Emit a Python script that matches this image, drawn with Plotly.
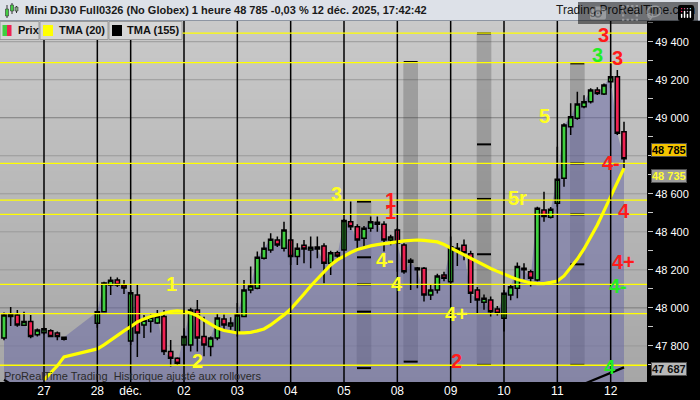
import plotly.graph_objects as go

# ---------------- data ----------------
bar_slot = [0, 1, 2, 3, 4, 5, 6, 7, 8, 9,
            14, 15, 16, 17, 18,
            19, 20, 21, 22, 23, 24, 25, 26,
            27, 28, 29, 30, 31, 32, 33, 34,
            35, 36, 37, 38, 39, 40, 41, 42,
            43, 44, 45, 46, 47, 48, 49, 50,
            51, 52, 53, 54, 55, 56, 57, 58,
            59, 60, 61, 62, 63, 64, 65, 66,
            67, 68, 69, 70, 71, 72, 73, 74,
            75, 76, 77, 78, 79, 80, 81, 82,
            83, 84, 85, 86, 87, 88, 89, 90,
            91, 92, 93]
bar_open = [47842, 47955, 47963, 47909, 47928, 47858, 47869, 47880, 47868, 47835,
            47919, 47980, 48120, 48147, 48120,
            47826, 48068, 47910, 47930, 47920, 47955, 47770, 47735,
            47805, 47805, 47989, 47850, 47797, 47842, 47942, 47905,
            47866, 47955, 48094, 48103, 48261, 48305, 48357, 48313,
            48357, 48270, 48330, 48305, 48320, 48325, 48235, 48290,
            48305, 48453, 48427, 48366, 48419, 48440, 48440, 48357,
            48410, 48331, 48250, 48210, 48208, 48068, 48094, 48173,
            48138, 48300, 48330, 48285, 48094, 48030, 48042, 47994,
            47945, 48068, 48103, 48208, 48190, 48147, 48515, 48477,
            48550, 48682, 48953, 48997, 49058, 49084, 49146, 49125,
            49190, 49216, 48927]
bar_high = [47975, 48005, 47989, 47980, 47963, 47892, 47895, 47888, 47875, 47850,
            47985, 48138, 48164, 48160, 48147,
            48094, 48120, 47963, 47965, 47989, 47989, 47831, 47740,
            47893, 48000, 48042, 47953, 47850, 47972, 47965, 47950,
            48026, 48147, 48217, 48296, 48348, 48392, 48375, 48453,
            48506, 48340, 48357, 48375, 48375, 48340, 48300, 48300,
            48467, 48559, 48440, 48430, 48480, 48480, 48455, 48385,
            48420, 48340, 48261, 48215, 48215, 48120, 48180, 48190,
            48375, 48341, 48360, 48300, 48110, 48070, 48060, 48010,
            48094, 48125, 48238, 48235, 48200, 48532, 48611, 48530,
            48848, 48971, 49076, 49137, 49119, 49155, 49160, 49180,
            49286, 49251, 48979]
bar_low = [47830, 47905, 47900, 47905, 47840, 47850, 47860, 47845, 47830, 47828,
           47895, 47975, 48068, 48110, 48073,
           47805, 47742, 47842, 47870, 47915, 47752, 47691, 47700,
           47700, 47770, 47770, 47745, 47745, 47830, 47890, 47885,
           47849, 47950, 48077, 48098, 48255, 48290, 48320, 48296,
           48226, 48226, 48235, 48209, 48261, 48130, 48173, 48265,
           48300, 48410, 48308, 48313, 48400, 48400, 48296, 48330,
           48190, 48180, 48094, 48103, 48033, 48042, 48075, 48140,
           48130, 48220, 48250, 48025, 47972, 47990, 47954, 47960,
           47875, 48040, 48051, 48150, 48112, 48140, 48453, 48470,
           48532, 48637, 48909, 48990, 49050, 49075, 49120, 49120,
           49155, 48909, 48734]
bar_close = [47963, 47965, 47910, 47928, 47849, 47884, 47890, 47849, 47850, 47845,
             47980, 48131, 48145, 48120, 48105,
             48079, 47868, 47935, 47950, 47955, 47770, 47735, 47709,
             47849, 47989, 47842, 47805, 47842, 47947, 47910, 47921,
             47963, 48094, 48115, 48266, 48314, 48361, 48331, 48410,
             48270, 48314, 48310, 48319, 48310, 48235, 48290, 48273,
             48459, 48427, 48357, 48419, 48453, 48450, 48357, 48373,
             48340, 48190, 48240, 48200, 48068, 48094, 48168, 48156,
             48322, 48313, 48290, 48077, 48042, 48050, 47980, 47972,
             48077, 48111, 48217, 48200, 48156, 48524, 48480, 48519,
             48676, 48962, 49005, 49072, 49084, 49146, 49128, 49172,
             49216, 48918, 48785]
tma20 = [None, None, None, None, None, None, 47621, 47658, 47695, 47742,
         47784, 47805, 47831, 47858, 47879,
         47901, 47926, 47942, 47955, 47963, 47973, 47981, 47984,
         47981, 47973, 47958, 47936, 47915, 47894, 47881, 47873,
         47868, 47868, 47871, 47879, 47889, 47910, 47936, 47963,
         47994, 48031, 48073, 48115, 48152, 48189, 48226, 48252,
         48273, 48291, 48307, 48318, 48326, 48333, 48339, 48341,
         48347, 48352, 48355, 48357, 48355, 48352, 48347, 48333,
         48315, 48297, 48276, 48257, 48239, 48223, 48207, 48192,
         48176, 48163, 48149, 48139, 48131, 48128, 48128, 48134,
         48141, 48168, 48210, 48257, 48310, 48373, 48436, 48510,
         48588, 48657, 48735]
tma155 = [47622, 47600, None, None, None, None, None, None, None, None,
          None, None, None, None, None,
          None, None, None, None, None, None, None, None,
          None, None, None, None, None, None, None, None,
          None, None, None, None, None, None, None, None,
          None, None, None, None, None, None, None, None,
          None, None, None, None, None, None, None, None,
          None, None, None, None, None, None, None, None,
          None, None, None, None, None, None, None, None,
          None, None, None, None, None, None, None, None,
          None, None, None, None, 47600, 47614, 47628, 47642,
          47657, 47672, 47687]

day_start_slot = [6, 14, 19, 27, 35, 43, 51, 59, 67, 75, 83, 91]
day_label = ["27", "28", "déc.", "02", "03", "04", "05", "08", "09", "10", "11", "12"]

price_ticks = [47800, 48000, 48200, 48400, 48600, 48800, 49000, 49200, 49400]
price_tick_text = ["47 800", "48 000", "48 200", "48 400", "48 600", "",
                   "49 000", "49 200", "49 400"]

level_price = [49445, 49290, 48760, 48567, 48492, 48124, 47970, 47698]

band_slot = [54, 61, 72, 86]
band_low = [47683, 47717, 47700, 47700]
band_high = [48559, 49293, 49444, 49286]
band_marks = [[48559, 48266, 48124, 47980, 47683],
              [49293, 47717],
              [49444, 48860, 48573, 48282, 47700],
              [49286, 48760, 48492, 48229, 47700]]

sig_text = ["1", "2", "3", "1", "1", "4-", "4", "4+", "2", "5r", "5",
            "3", "3", "3", "4-", "4", "4+", "4-", "4"]
sig_color = ["yellow", "yellow", "yellow", "red", "red", "yellow", "yellow", "yellow", "red",
             "yellow", "yellow", "red", "green", "red", "red", "red", "red", "green", "green"]
sig_slot = [25.05, 28.95, 49.9, 57.9, 57.9, 57.2, 58.95, 67.9, 67.9, 77.07, 81.0,
            89.97, 88.95, 91.98, 91.02, 92.97, 92.9, 92.07, 90.9]
sig_price = [48126, 47721, 48601, 48567, 48504, 48252, 48126, 47969, 47721, 48578, 49009,
             49437, 49332, 49315, 48760, 48508, 48241, 48116, 47691]

header_text = "Mini DJ30 Full0326 (No Globex) 1 heure 48 785 -0,03 % 12 déc. 2025, 17:42:42"
site_text = "Trading.ProRealTime.com"
footer_text = "ProRealTime Trading  Historique ajusté aux rollovers"
legend_items = ["Prix", "TMA (20)", "TMA (155)"]

# ---------------- layout constants ----------------
W, H = 700, 400
ML, MR, MT, MB = 0, 53, 21, 18
PW, PH = W - ML - MR, H - MT - MB
X_LEFT, X_RIGHT = -0.6, 96.45
Y_MIN, Y_MAX = 47610, 49509
FONT = "Arial, Liberation Sans, sans-serif"
GREEN = "#3fd03f"
RED = "#ee2152"
SIG_COLORS = {"yellow": "#ffff22", "red": "#ff1a1a", "green": "#22ee22"}


def PX(x):
    return (x - ML) / PW


def PY(y):
    return (MT + PH - y) / PH


def fmt(v):
    s = f"{int(round(v)):,}"
    return s.replace(",", " ")


fig = go.Figure()

# ---- base subplot (x, y): background, grid, bands, price area ----
fig.add_trace(go.Heatmap(
    x=[X_LEFT, X_RIGHT], y=[Y_MIN, Y_MAX], z=[[0, 0], [1, 1]],
    colorscale=[[0, "#a6a6a6"], [1, "#c9c9c9"]], showscale=False,
    zsmooth="best", hoverinfo="skip"))

gx, gy, gx2, gy2 = [], [], [], []
for v in price_ticks:
    if v % 1000 == 0:
        gx2 += [X_LEFT, X_RIGHT, None]
        gy2 += [v, v, None]
    else:
        gx += [X_LEFT, X_RIGHT, None]
        gy += [v, v, None]
fig.add_trace(go.Scatter(x=gx, y=gy, mode="lines", line=dict(color="#999999", width=1), hoverinfo="skip"))
fig.add_trace(go.Scatter(x=gx2, y=gy2, mode="lines", line=dict(color="#7c7c7c", width=1), hoverinfo="skip"))

for s, lo, hi in zip(band_slot, band_low, band_high):
    fig.add_trace(go.Scatter(
        x=[s - 1.1, s + 1.1, s + 1.1, s - 1.1, s - 1.1],
        y=[lo, lo, hi, hi, lo], fill="toself", mode="lines",
        line=dict(width=0), fillcolor="rgba(40,40,40,0.24)", hoverinfo="skip"))

fig.add_trace(go.Scatter(x=bar_slot, y=bar_close, mode="lines", line=dict(width=0),
                         fill="tozeroy", fillcolor="rgba(104,104,164,0.52)", hoverinfo="skip"))

bx, by = [], []
for s, marks in zip(band_slot, band_marks):
    for m in marks:
        bx += [s - 1.05, s + 1.05, None]
        by += [m, m, None]
fig.add_trace(go.Scatter(x=bx, y=by, mode="lines", line=dict(color="black", width=2), hoverinfo="skip"))

# ---- overlay subplot (x2, y2): candles and averages on top ----
fig.add_trace(go.Candlestick(
    x=bar_slot, open=bar_open, high=bar_high, low=bar_low, close=bar_close,
    increasing=dict(fillcolor=GREEN, line=dict(color="black", width=1.5)),
    decreasing=dict(fillcolor=RED, line=dict(color="black", width=1.5)),
    whiskerwidth=0, hoverinfo="skip", xaxis="x2", yaxis="y2"))

fig.add_trace(go.Scatter(x=bar_slot, y=tma155, mode="lines", line=dict(color="black", width=2.2),
                         hoverinfo="skip", xaxis="x2", yaxis="y2"))
fig.add_trace(go.Scatter(x=bar_slot, y=tma20, mode="lines", line=dict(color="#ffff00", width=3.2),
                         hoverinfo="skip", xaxis="x2", yaxis="y2"))

shapes = []
# day separators and price levels (above the candles, clipped to the plot)
for d in day_start_slot:
    shapes.append(dict(type="line", xref="x", yref="y", x0=d, x1=d, y0=Y_MIN, y1=Y_MAX,
                       line=dict(color="black", width=1.5), layer="above"))
for p in level_price:
    shapes.append(dict(type="line", xref="x", yref="y", x0=X_LEFT, x1=X_RIGHT, y0=p, y1=p,
                       line=dict(color="#ffff00", width=1.3), layer="above"))

annotations = []
for t, c, s, p in zip(sig_text, sig_color, sig_slot, sig_price):
    annotations.append(dict(x=s, y=p, xref="x", yref="y", text="<b>" + t + "</b>", showarrow=False,
                            font=dict(family=FONT, size=20, color=SIG_COLORS[c]),
                            xanchor="center", yanchor="middle"))

last_close = bar_close[-1]
last_tma20 = tma20[-1]
last_tma155 = tma155[-1]
for val, bg, fc, shift in [(last_close, "#f5c400", "#000000", 8.5),
                           (last_tma20, "#9c9c9c", "#ffff30", -8),
                           (last_tma155, "#b8b8b8", "#101010", -1.5)]:
    annotations.append(dict(x=1, y=val, xref="paper", yref="y", text="<b>" + fmt(val) + "</b>",
                            showarrow=False, xanchor="left", yanchor="middle", xshift=4, yshift=shift,
                            bgcolor=bg, bordercolor="#505050", borderwidth=1, borderpad=0,
                            font=dict(family=FONT, size=11, color=fc)))

annotations.append(dict(x=PX(23), y=PY(10.5), xref="paper", yref="paper", text="<b>" + header_text + "</b>",
                        showarrow=False, xanchor="left", yanchor="middle",
                        font=dict(family=FONT, size=11, color="#1a1a1a")))
annotations.append(dict(x=PX(697), y=PY(10.5), xref="paper", yref="paper", text=site_text,
                        showarrow=False, xanchor="right", yanchor="middle",
                        font=dict(family=FONT, size=12, color="#1a1a1a")))
annotations.append(dict(x=PX(2), y=PY(376), xref="paper", yref="paper", text=footer_text,
                        showarrow=False, xanchor="left", yanchor="middle",
                        font=dict(family=FONT, size=11, color="#2a2a2a")))

# header bar and legend row
shapes.append(dict(type="rect", xref="paper", yref="paper", x0=PX(0), x1=PX(W), y0=PY(MT), y1=PY(0),
                   fillcolor="#dde1e8", line=dict(width=0), layer="above"))
shapes.append(dict(type="line", xref="paper", yref="paper", x0=PX(0), x1=PX(W), y0=PY(MT - 0.5), y1=PY(MT - 0.5),
                   line=dict(color="#8e96a3", width=1), layer="above"))
legend_box = [(0, 39), (40, 108), (109, 182)]
legend_text_x = [16, 57, 125]
for (x0, x1), tx, name in zip(legend_box, legend_text_x, legend_items):
    shapes.append(dict(type="rect", xref="paper", yref="paper", x0=PX(x0), x1=PX(x1), y0=PY(39.5), y1=PY(21.5),
                       fillcolor="#d6d6d6", line=dict(color="#9a9a9a", width=1), layer="above"))
    annotations.append(dict(x=PX(tx), y=PY(30.5), xref="paper", yref="paper", text="<b>" + name + "</b>",
                            showarrow=False, xanchor="left", yanchor="middle",
                            font=dict(family=FONT, size=11, color="#111111")))
shapes.append(dict(type="rect", xref="paper", yref="paper", x0=PX(2.5), x1=PX(7), y0=PY(36), y1=PY(25),
                   fillcolor=GREEN, line=dict(width=0), layer="above"))
shapes.append(dict(type="rect", xref="paper", yref="paper", x0=PX(7), x1=PX(11.5), y0=PY(36), y1=PY(25),
                   fillcolor=RED, line=dict(width=0), layer="above"))
shapes.append(dict(type="rect", xref="paper", yref="paper", x0=PX(43), x1=PX(53), y0=PY(36), y1=PY(25),
                   fillcolor="#ffff00", line=dict(width=0), layer="above"))
shapes.append(dict(type="rect", xref="paper", yref="paper", x0=PX(112), x1=PX(122), y0=PY(36), y1=PY(25),
                   fillcolor="#000000", line=dict(width=0), layer="above"))
for cx, top, bot, btop, bbot, col in [(7, 5, 18, 9, 16, "#4c4"), (12, 3, 14, 5, 11, "#4c4"), (16.5, 6, 13, 7, 11, "#8a8")]:
    shapes.append(dict(type="line", xref="paper", yref="paper", x0=PX(cx), x1=PX(cx), y0=PY(bot), y1=PY(top),
                       line=dict(color="#333", width=1), layer="above"))
    shapes.append(dict(type="rect", xref="paper", yref="paper", x0=PX(cx - 1.5), x1=PX(cx + 1.5), y0=PY(bbot), y1=PY(btop),
                       fillcolor=col, line=dict(color="#333", width=0.6), layer="above"))

fig.update_layout(
    width=W, height=H,
    margin=dict(l=ML, r=MR, t=MT, b=MB, pad=0),
    paper_bgcolor="black", plot_bgcolor="#b8b8b8",
    showlegend=False, hovermode=False,
    boxgap=0.2, boxgroupgap=0.2,
    annotations=annotations, shapes=shapes,
    xaxis=dict(range=[X_LEFT, X_RIGHT], tickvals=day_start_slot, ticktext=day_label,
               showgrid=False, zeroline=False, showline=False, ticks="",
               tickprefix="<b>", ticksuffix="</b>",
               tickfont=dict(family=FONT, size=12, color="white"),
               rangeslider=dict(visible=False), fixedrange=True),
    yaxis=dict(range=[Y_MIN, Y_MAX], side="right", tickvals=price_ticks, ticktext=price_tick_text,
               showgrid=False, zeroline=False, showline=False, ticks="outside", ticklen=5,
               tickcolor="#c8c8c8", tickwidth=1,
               tickprefix="<b>", ticksuffix="</b>",
               minor=dict(tick0=47600, dtick=100, ticks="outside", ticklen=5, tickcolor="#c8c8c8"),
               tickfont=dict(family=FONT, size=11, color="white"), fixedrange=True),
    xaxis2=dict(range=[X_LEFT, X_RIGHT], overlaying="x", visible=False,
                rangeslider=dict(visible=False), fixedrange=True),
    yaxis2=dict(range=[Y_MIN, Y_MAX], overlaying="y", visible=False, fixedrange=True),
)

fig.write_html("out.html", post_script="document.body.style.margin='0';document.body.style.overflow='hidden';")
